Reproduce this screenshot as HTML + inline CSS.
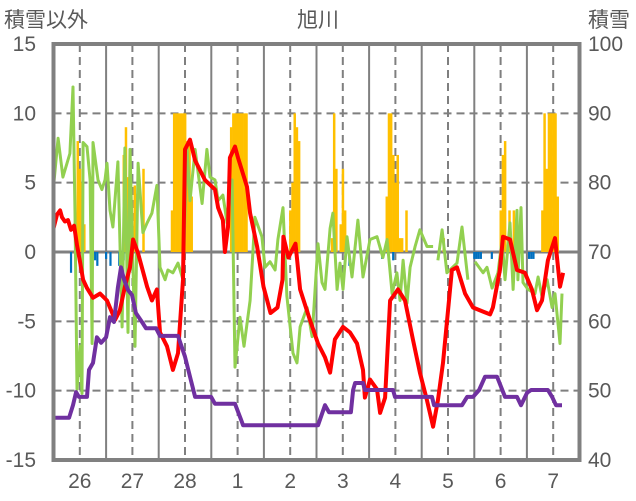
<!DOCTYPE html>
<html><head><meta charset="utf-8">
<style>
html,body{margin:0;padding:0;background:#fff;}
svg{display:block;font-family:"Liberation Sans","Noto Sans CJK JP",sans-serif;}
</style></head>
<body>
<svg id="chart" width="636" height="501" viewBox="0 0 636 501" xmlns="http://www.w3.org/2000/svg">
<g id="grid"></g>
<g id="bars"></g>
<g id="lines"></g>
<g id="frame"></g>
<g id="labels"></g>
</svg>
<script>
// ---- data (time in hours from Feb 26 00:00) ----
const dayLabels = ["26","27","28","1","2","3","4","5","6","7"];
const leftTicks = [15,10,5,0,-5,-10,-15];
const rightTicks = [100,90,80,70,60,50,40];

const redHours = [0,1.6,3,3.9,5.2,6.6,8,9.4,10.7,12.1,13.5,15.3,18,21.2,24.4,28.1,30.3,32.6,34.9,36.3,38.6,42.7,44.9,47.2,48.6,51.8,54.5,56.8,59.1,60,62.3,64.6,69.1,73.7,75.1,77.3,78.2,79.6,80.5,82.8,84.2,88.3,89.7,92.9,95.8,99,102.2,104.5,104.9,107.2,110.4,112.5,117,120.7,123.9,126.2,128.4,132.1,135.3,138.5,141.2,142.1,144.4,147.6,149,151.3,153.6,157.2,160.4,164,167.2,170.4,173.2,175.4,177.7,181.8,184.1,187.8,191.4,196,199.2,200.5,203.7,205.1,208.3,211.5,215.1,218.3,220.6,222.9,225.6,228.8,231.1,232.5];
const redValues = [1.7,2.7,3.0,2.5,2.2,2.3,1.6,1.9,0.5,-0.7,-2.0,-2.6,-3.3,-3.0,-3.5,-4.9,-4.2,-2.5,-1.1,0.9,-0.1,-2.5,-3.5,-2.7,-5.8,-6.8,-8.5,-7.3,-2.0,7.4,8.1,6.6,5.2,4.5,3.2,2.3,0,1.8,6.8,7.6,6.8,4.7,2.8,0.4,-2.5,-4.4,-4.0,-2.0,1.1,-0.4,0.6,-2.7,-4.9,-6.6,-7.6,-8.7,-6.3,-5.4,-5.8,-6.6,-8.5,-10.5,-9.2,-9.9,-11.6,-10.5,-3.5,-2.7,-3.5,-6.3,-8.7,-10.7,-12.6,-10.7,-8.0,-1.3,-1.1,-3.0,-4.0,-4.3,-4.5,-4.0,-1.3,1.1,0.9,-1.3,-1.5,-2.7,-4.2,-3.5,-0.6,1.0,-2.5,-1.5];

const greenHours = [0,2.1,4.3,7.5,8.9,9.8,10.7,12.1,13,13.5,15.3,16.7,17.6,18,20.3,22.1,23.5,24.4,25.8,27.1,29.4,31.3,32.6,34,34.9,37.2,38.6,40.8,42.7,44.9,47.2,48.6,50.9,52.2,54.5,56.8,59.1,60.9,62.3,64.6,67.8,70,71.4,73.7,75.1,77.3,79.2,81.5,82.8,85.1,86.9,89.7,91.9,95.1,96.5,98.8,101.1,102.4,104.7,106.5,109.3,111.1,112.5,115.7,118,120.7,122.5,123.9,126.2,127.5,129.4,130.7,132.1,133.9,136.2,138.9,141.2,144.4,147.6,150.3,152.2,154.5,156.7,158.1,159.5,161.3,162.7,165,167.2,170.4,173.2,174.3,175.4,177.3,179.5,184.1,186.4,189.1,190.7,192.3,196,197.8,200.1,202.8,204.7,206,208.3,209.7,211.5,211.9,213.3,214.2,216.5,219.7,221.1,222.9,225.2,227.5,228.8,231.1,232];
const greenValues = [4.7,8.2,5.4,7.1,11.9,2.8,-9.9,-6.8,-10.2,7.9,7.6,5.2,-6.6,7.9,5.2,4.5,5.2,6.4,3.0,1.8,6.5,-5.4,7.5,-5.8,7.4,-6.8,6.4,1.4,2.1,2.8,4.8,-1.1,-2.0,-1.3,-1.5,-0.8,-2.0,7.6,3.7,7.4,3.5,7.4,5.4,5.2,3.7,4.1,2.1,5.2,-8.3,-4.7,-6.8,-3.5,2.5,1.1,-1.1,-0.7,-1.3,0.9,3.2,-3.2,-7.3,-8.0,-5.4,-4.0,-6.1,0.6,-2.2,-2.7,1.7,2.8,-2.7,-0.8,-2.7,1.1,-1.8,2.3,-1.8,0.9,1.1,-0.4,0.9,-3.0,-1.5,-3.5,-0.6,-3.7,-1.1,0.4,1.6,0.4,0.4,null,-0.6,1.6,-1.5,-0.8,1.8,-2.0,null,-0.7,-1.5,-1.1,-2.6,-1.5,0.9,-2.0,2.1,-2.7,3.0,-2.0,3.2,-2.2,-2.7,-3.0,-1.8,-3.2,-2.0,-4.0,-3.0,-6.6,-3.0];

const snowHours = [0,7.1,8.9,10.3,11.6,15.3,16.2,18,19.8,21.7,24,25.8,27.6,29.4,30.8,32.2,34,35.8,37.6,40.4,42.2,46.8,48.6,56.8,60,62.7,64.6,71.9,73.7,82.8,85.6,86.5,120.7,123.9,125.7,135.7,136.7,137.6,141.2,142.1,154.9,155.8,172.7,173.6,186.4,188.7,191.4,194.2,196.9,202.4,206,211.5,213.3,216.1,217.9,225.6,227.5,229.3,232];
const snowDepth = [46.1,46.1,47.9,49.8,49.1,49.1,53.0,54.0,57.7,56.9,57.7,60.6,59.9,64.9,67.8,66.0,64.5,63.8,61.2,59.9,59.0,59.0,57.9,57.9,54.9,51.5,49.1,49.1,48.1,48.1,45.8,45.0,45.0,47.9,46.9,46.9,50.1,51.1,51.1,50.1,50.1,49.1,49.1,47.9,47.9,49.1,49.1,50.1,52.0,52.0,49.1,49.1,47.9,49.7,50.1,50.1,49.1,47.9,47.9];

const orangeHours = [11,12,13,14,32,33,34,35,37,38,41,54,55,56,57,58,59,60,61,62,63,81,82,83,84,85,86,87,88,108,109,110,111,112,127,128,129,131,132,133,152,153,154,155,156,157,158,159,161,178,204,205,206,208,210,223,224,225,226,227,228,229,230];
const orangeValues = [8,6,5,2,7,9,5.4,3.3,4.8,4.2,6,3,10,10,10,10,10,10,8,8,4,9,10,10,10,10,10,10,10,3,5,10,9,8,1,10,6,2,6,3,4,10,10,7,5,7,1,1,3,1,3,7,8,3,3,3,10,6,10,10,10,10,4];

const blueHours = [8,19,20,24,26,30,32,35,135,150,155,192,193,194,195,200,217,218,219];
const blueValues = [-1.5,-0.6,-1,-0.5,-1,-1,-0.6,-0.6,-1,-0.5,-0.6,-0.5,-0.5,-0.5,-0.5,-0.5,-0.5,-0.5,-0.5];

// ---- layout ----
const NS = "http://www.w3.org/2000/svg";
const X0 = 53.5, X1 = 579.5, YT = 44, YB = 460, HOURS = 240;
const xs = h => X0 + h * (X1 - X0) / HOURS;
const yL = v => YT + (15 - v) * (YB - YT) / 30;
const yR = v => YT + (100 - v) * (YB - YT) / 60;
function mk(tag, attrs, parent) {
  const e = document.createElementNS(NS, tag);
  for (const k in attrs) e.setAttribute(k, attrs[k]);
  parent.appendChild(e);
  return e;
}
const grid = document.getElementById('grid');
const bars = document.getElementById('bars');
const lines = document.getElementById('lines');
const frame = document.getElementById('frame');
const labels = document.getElementById('labels');

// horizontal grid
leftTicks.forEach(v => {
  if (v === 15 || v === -15) return;
  const g = mk('line', {x1:X0, x2:X1, y1:yL(v), y2:yL(v), stroke: v===0?'#808080':'#7f7f7f', 'stroke-width': v===0?3:2, 'stroke-dasharray': v===0?'none':'8,5'}, grid);
  
  
});
// vertical grid
for (let d = 0; d < dayLabels.length; d++) {
  if (d > 0) {
    const s = mk('line', {x1:xs(d*24), x2:xs(d*24), y1:YT, y2:YB, stroke:'#808080', 'stroke-width':2}, grid);
    
    
  }
  const m = mk('line', {x1:xs(d*24+12), x2:xs(d*24+12), y1:YT, y2:YB, stroke:'#7f7f7f', 'stroke-width':2, 'stroke-dasharray':'8,5'}, grid);
  
  
  const t = mk('text', {x:xs(d*24+12), y:488, 'text-anchor':'middle', 'font-size':21, fill:'#595959'}, labels);
  t.textContent = dayLabels[d];
  
  
}
// bars
const bw = (X1 - X0) / HOURS;
orangeHours.forEach((h, i) => {
  const v = orangeValues[i];
  const r = mk('rect', {x:xs(h)-bw/2, y:yL(v), width:bw+0.3, height:yL(0)-yL(v), fill:'#FFC000'}, bars);
  
  
});
blueHours.forEach((h, i) => {
  const v = blueValues[i];
  const r = mk('rect', {x:xs(h)-bw/2, y:yL(0), width:bw, height:yL(v)-yL(0), fill:'#0070C0'}, bars);
  
  
});
// lines
function path(hours, vals, yf) {
  let d = '', pen = false;
  hours.forEach((h, i) => {
    const v = vals[i];
    if (v === null) { pen = false; return; }
    d += (pen ? 'L' : 'M') + xs(h).toFixed(1) + ',' + yf(v).toFixed(1);
    pen = true;
  });
  return d;
}
const gl = mk('path', {d:path(greenHours, greenValues, yL), fill:'none', stroke:'#92D050', 'stroke-width':3, 'stroke-linejoin':'round'}, lines);


const rl = mk('path', {d:path(redHours, redValues, yL), fill:'none', stroke:'#FF0000', 'stroke-width':4, 'stroke-linejoin':'round'}, lines);


const pl = mk('path', {d:path(snowHours, snowDepth, yR), fill:'none', stroke:'#7030A0', 'stroke-width':4, 'stroke-linejoin':'round'}, lines);


// frame
const fr = mk('rect', {x:X0, y:YT, width:X1-X0, height:YB-YT, fill:'none', stroke:'#808080', 'stroke-width':4}, frame);


// tick labels
leftTicks.forEach(v => {
  const t = mk('text', {x:36, y:yL(v)+7, 'text-anchor':'end', 'font-size':21, fill:'#595959'}, labels);
  t.textContent = v;
  
  
});
rightTicks.forEach(v => {
  const t = mk('text', {x:588, y:yR(v)+7, 'text-anchor':'start', 'font-size':21, fill:'#595959'}, labels);
  t.textContent = v;
  
  
});
</script>
<svg style="position:absolute;left:0;top:0" width="636" height="40">
<text x="4" y="27" font-size="21" fill="#595959" font-family="Liberation Sans, Noto Sans CJK JP, sans-serif">積雪以外</text>
<text x="318" y="27" text-anchor="middle" font-size="21" fill="#595959" font-family="Liberation Sans, Noto Sans CJK JP, sans-serif">旭川</text>
<text x="588" y="27" font-size="21" fill="#595959" font-family="Liberation Sans, Noto Sans CJK JP, sans-serif">積雪</text>
</svg>
</body></html>
